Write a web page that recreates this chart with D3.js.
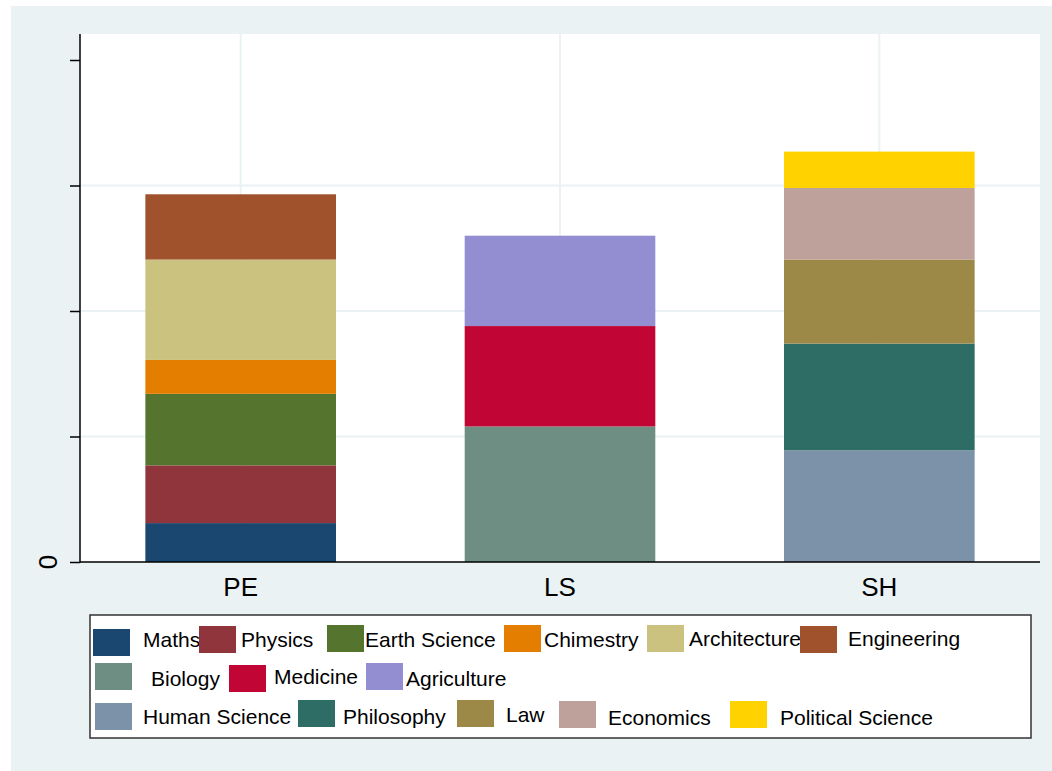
<!DOCTYPE html>
<html>
<head>
<meta charset="utf-8">
<script src="https://cdn.jsdelivr.net/npm/d3@7"></script>
<style>
  body { margin: 0; background: #ffffff; }
  svg { display: block; font-family: "Liberation Sans", Arial, sans-serif; }
</style>
</head>
<body>
<div id="chart"></div>
<script>
// categories on the x axis
const CATEGORIES = ["PE", "LS", "SH"];

// series, in stacking order, with values for PE, LS, SH
const SERIES = ["Maths", "Physics", "Earth Science", "Chimestry", "Architecture", "Engineering",
  "Biology", "Medicine", "Agriculture",
  "Human Science", "Philosophy", "Law", "Economics", "Political Science"];

const VALUES = {
  "Maths":             [3.1, 0, 0],
  "Physics":           [4.6, 0, 0],
  "Earth Science":     [5.7, 0, 0],
  "Chimestry":         [2.7, 0, 0],
  "Architecture":      [8.0, 0, 0],
  "Engineering":       [5.2, 0, 0],
  "Biology":           [0, 10.8, 0],
  "Medicine":          [0, 8.0, 0],
  "Agriculture":       [0, 7.2, 0],
  "Human Science":     [0, 0, 8.9],
  "Philosophy":        [0, 0, 8.5],
  "Law":               [0, 0, 6.7],
  "Economics":         [0, 0, 5.7],
  "Political Science": [0, 0, 2.9]
};

const COLORS = ["#1A476F", "#90353B", "#55752F", "#E37E00", "#CAC27E", "#A0522D",
  "#6E8E84", "#C10534", "#938DD2",
  "#7B92A8", "#2D6D66", "#9C8847", "#BFA19C", "#FFD200"];

const Y_TICKS = [0, 10, 20, 30, 40];

// legend layout: [swatchX, swatchY, textX, textBaseline] per series (Stata puts them a bit unevenly)
const LEGEND_POS = [
  [93, 629, 143, 647], [199, 626, 241, 647], [327, 625, 365, 647], [504, 625, 544, 647],
  [647, 625, 689, 646], [800, 626, 848, 646],
  [95, 663, 151, 686], [229, 665, 274, 684], [366, 663, 406, 686],
  [95, 703, 143, 724], [298, 700, 343, 724], [457, 700, 506, 722], [559, 701, 608, 725],
  [730, 701, 780, 725]
];

const W = 1052, H = 771;
const BG = "#EAF2F3";
const plot = { left: 80, right: 1040, top: 34, bottom: 562 };

const svg = d3.select("#chart").append("svg").attr("width", W).attr("height", H);

svg.append("rect").attr("x", 11).attr("y", 6).attr("width", W - 11).attr("height", H - 6).attr("fill", BG);
svg.append("rect")
  .attr("x", plot.left).attr("y", plot.top)
  .attr("width", plot.right - plot.left).attr("height", plot.bottom - plot.top)
  .attr("fill", "#ffffff");

const x = d3.scaleBand().domain(CATEGORIES).range([plot.left + 1.5, plot.right - 1.5]).paddingInner(0.403).paddingOuter(0.2);
const y = d3.scaleLinear().domain([0, (plot.bottom - plot.top) / 12.55]).range([plot.bottom, plot.top]);

// gridlines
const grid = svg.append("g");
grid.selectAll("line.h")
  .data(Y_TICKS.filter(t => t > 0 && t < 40))
  .join("line")
  .attr("x1", plot.left).attr("x2", plot.right)
  .attr("y1", d => y(d)).attr("y2", d => y(d))
  .attr("stroke", BG).attr("stroke-width", 2);
grid.selectAll("line.v")
  .data(CATEGORIES)
  .join("line")
  .attr("x1", d => x(d) + x.bandwidth() / 2).attr("x2", d => x(d) + x.bandwidth() / 2)
  .attr("y1", plot.top).attr("y2", plot.bottom)
  .attr("stroke", BG).attr("stroke-width", 2);

// stacked bars
const table = CATEGORIES.map((c, i) => {
  const row = { cat: c };
  SERIES.forEach(s => { row[s] = VALUES[s][i]; });
  return row;
});
const stacked = d3.stack().keys(SERIES)(table);

svg.append("g").selectAll("g")
  .data(stacked)
  .join("g")
  .attr("fill", (d, i) => COLORS[i])
  .selectAll("rect")
  .data(d => d.filter(p => p[1] - p[0] > 0))
  .join("rect")
  .attr("x", d => x(d.data.cat))
  .attr("width", x.bandwidth())
  .attr("y", d => y(d[1]))
  .attr("height", d => y(d[0]) - y(d[1]));

// y axis
const yAxis = d3.axisLeft(y).tickValues(Y_TICKS).tickSize(10).tickFormat("");
const yg = svg.append("g").attr("transform", `translate(${plot.left},0)`).call(yAxis);
yg.select(".domain").remove();
yg.selectAll(".tick line").attr("stroke", "#000").attr("stroke-width", 1.5);
svg.append("line").attr("x1", plot.left).attr("x2", plot.left)
  .attr("y1", plot.top).attr("y2", plot.bottom + 0.75)
  .attr("stroke", "#000").attr("stroke-width", 1.5);
svg.append("text")
  .attr("transform", `translate(57,${y(0)}) rotate(-90)`)
  .attr("text-anchor", "middle")
  .style("font-size", "26px")
  .text("0");

// x axis
svg.append("line").attr("x1", plot.left).attr("x2", plot.right)
  .attr("y1", plot.bottom).attr("y2", plot.bottom)
  .attr("stroke", "#000").attr("stroke-width", 1.5);
const xAxis = d3.axisBottom(x).tickSize(0).tickPadding(16);
const xg = svg.append("g").attr("transform", `translate(0,${plot.bottom})`).call(xAxis);
xg.select(".domain").remove();
xg.selectAll("text").style("font-size", "26px").style("font-family", "Liberation Sans, Arial, sans-serif").attr("fill", "#000");

// legend
svg.append("rect")
  .attr("x", 90).attr("y", 615).attr("width", 941).attr("height", 123)
  .attr("fill", "#fff").attr("stroke", "#333").attr("stroke-width", 1.5);

const leg = svg.append("g").selectAll("g")
  .data(SERIES)
  .join("g");
leg.append("rect")
  .attr("x", (d, i) => LEGEND_POS[i][0]).attr("y", (d, i) => LEGEND_POS[i][1])
  .attr("width", 37).attr("height", 27)
  .attr("fill", (d, i) => COLORS[i]);
leg.append("text")
  .attr("x", (d, i) => LEGEND_POS[i][2]).attr("y", (d, i) => LEGEND_POS[i][3])
  .style("font-size", "21px")
  .text(d => d);
</script>
</body>
</html>
